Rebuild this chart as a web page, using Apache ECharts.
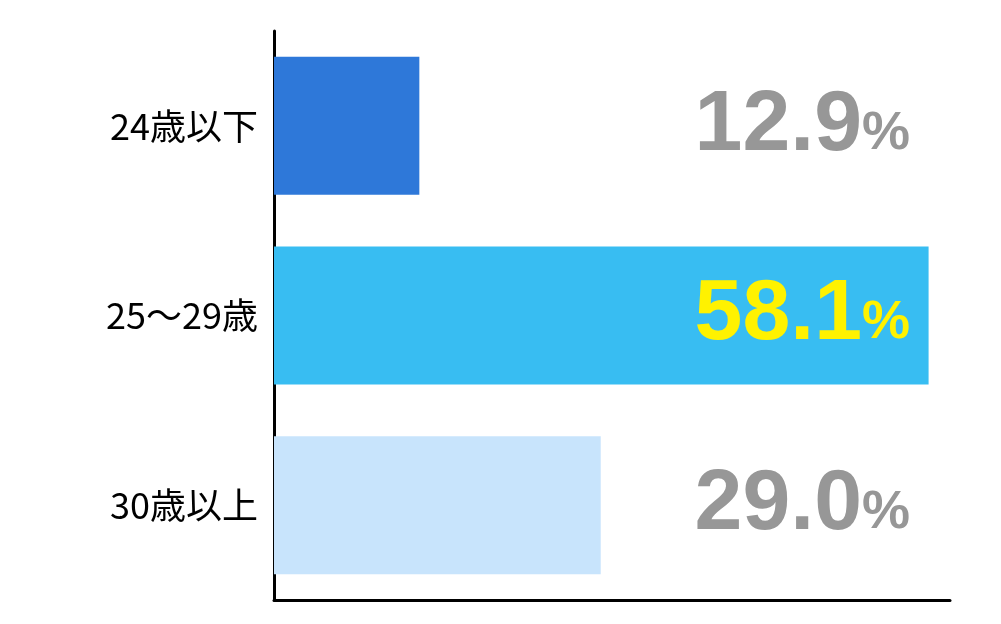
<!DOCTYPE html>
<html>
<head>
<meta charset="utf-8">
<script src="https://cdn.jsdelivr.net/npm/echarts@6/dist/echarts.min.js"></script>
<style>
  html, body { margin: 0; padding: 0; background: #fff; }
  #main { width: 1001px; height: 624px; }
</style>
</head>
<body>
<div id="main"></div>
<script>
// 年齢区分と割合
var categories = ['24歳以下', '25〜29歳', '30歳以上'];
var values = [12.9, 58.1, 29.0];
var barColors = ['#2e78d9', '#38bdf2', '#c8e4fc'];
var labelColors = ['#979797', '#fff200', '#979797'];
var axisMax = 60;

var myChart = echarts.init(document.getElementById('main'));

var labelData = categories.map(function (c, i) {
    return {
        value: axisMax,
        label: {
            rich: {
                n: { fontSize: 86, fontWeight: 'bold', fontFamily: 'Liberation Sans', color: labelColors[i], lineHeight: 86, verticalAlign: 'bottom' },
                p: { fontSize: 54, fontWeight: 'bold', fontFamily: 'Liberation Sans', color: labelColors[i], lineHeight: 54, padding: [0, 0, 8, 0], verticalAlign: 'bottom' }
            }
        }
    };
});

var option = {
    animation: false,
    backgroundColor: '#fff',
    grid: { left: 274, top: 31, bottom: 24, width: 676 },
    xAxis: {
        type: 'value',
        min: 0,
        max: axisMax,
        axisLine: { show: true, lineStyle: { color: '#000', width: 3 } },
        axisTick: { show: false },
        axisLabel: { show: false },
        splitLine: { show: false }
    },
    yAxis: {
        type: 'category',
        inverse: true,
        data: categories,
        axisLine: { show: true, lineStyle: { color: '#000', width: 3 } },
        axisTick: { show: false },
        axisLabel: {
            color: '#000',
            fontSize: 36,
            fontFamily: 'Noto Sans CJK JP',
            margin: 16
        }
    },
    series: [
        {
            type: 'bar',
            barWidth: 138,
            data: values.map(function (v, i) {
                return { value: v, itemStyle: { color: barColors[i] } };
            }),
            z: 1
        },
        {
            // 右側の数値ラベル用
            type: 'bar',
            barWidth: 138,
            barGap: '-100%',
            silent: true,
            itemStyle: { color: 'rgba(0,0,0,0)' },
            label: {
                show: true,
                position: 'insideRight',
                distance: 40,
                formatter: function (p) {
                    return '{n|' + values[p.dataIndex].toFixed(1) + '}{p|%}';
                }
            },
            data: labelData,
            z: 3
        }
    ]
};
myChart.setOption(option);
</script>
</body>
</html>
